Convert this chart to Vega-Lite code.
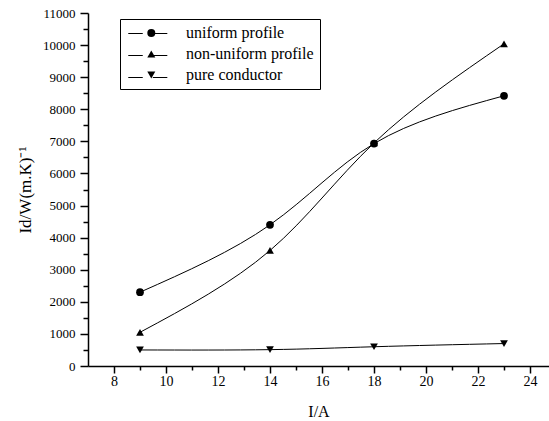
{
  "$schema": "https://vega.github.io/schema/vega-lite/v6.json",
  "autosize": "none",
  "width": 461,
  "height": 353,
  "padding": {"left": 88, "top": 13, "right": 0, "bottom": 55},
  "background": "white",
  "config": {
    "font": "Liberation Serif",
    "view": {"stroke": null},
    "axis": {
      "grid": false,
      "labelFont": "Liberation Serif",
      "labelFontSize": 13,
      "labelColor": "black",
      "titleFont": "Liberation Serif",
      "titleFontSize": 16,
      "titleFontWeight": "normal",
      "titleColor": "black",
      "domainColor": "black",
      "domainWidth": 1.5,
      "tickColor": "black",
      "tickWidth": 1.5
    },
    "legend": {
      "labelFont": "Liberation Serif",
      "labelFontSize": 16,
      "labelColor": "black"
    }
  },
  "data": {
    "values": [
      {"I": 9, "v": 2300, "series": "uniform profile", "code": "u"},
      {"I": 14, "v": 4400, "series": "uniform profile", "code": "u"},
      {"I": 18, "v": 6930, "series": "uniform profile", "code": "u"},
      {"I": 23, "v": 8420, "series": "uniform profile", "code": "u"},
      {"I": 9, "v": 1050, "series": "non-uniform profile", "code": "n"},
      {"I": 14, "v": 3600, "series": "non-uniform profile", "code": "n"},
      {"I": 18, "v": 6950, "series": "non-uniform profile", "code": "n"},
      {"I": 23, "v": 10040, "series": "non-uniform profile", "code": "n"},
      {"I": 9, "v": 500, "series": "pure conductor", "code": "p"},
      {"I": 14, "v": 510, "series": "pure conductor", "code": "p"},
      {"I": 18, "v": 600, "series": "pure conductor", "code": "p"},
      {"I": 23, "v": 700, "series": "pure conductor", "code": "p"}
    ]
  },
  "resolve": {"axis": {"x": "independent", "y": "independent"}},
  "layer": [
    {
      "mark": {"type": "line", "interpolate": "natural", "color": "black", "strokeWidth": 1},
      "encoding": {
        "x": {
          "field": "I", "type": "quantitative",
          "scale": {"domain": [7, 24.73], "nice": false, "zero": false},
          "axis": {"orient": "bottom", "title": "I/A", "values": [8, 10, 12, 14, 16, 18, 20, 22, 24], "format": "d", "tickSize": 7, "labelPadding": 1, "labelFontSize": 14, "titlePadding": 15, "labelFlush": false}
        },
        "y": {
          "field": "v", "type": "quantitative",
          "scale": {"domain": [0, 11000], "nice": false},
          "axis": {"orient": "left", "title": "Id/W(m.K)⁻¹", "titleFontSize": 17, "values": [0, 1000, 2000, 3000, 4000, 5000, 6000, 7000, 8000, 9000, 10000, 11000], "format": "d", "tickSize": 8, "labelPadding": 5, "titlePadding": 8, "labelFlush": false}
        },
        "detail": {"field": "series"}
      }
    },
    {
      "mark": {"type": "point", "filled": false, "color": "black", "opacity": 0, "size": 100},
      "encoding": {
        "x": {"field": "I", "type": "quantitative", "axis": null},
        "y": {"field": "v", "type": "quantitative", "axis": null},
        "color": {
          "field": "code", "type": "nominal",
          "scale": {"domain": ["u", "n", "p"], "range": ["black", "black", "black"]},
          "legend": {
            "title": null,
            "orient": "none",
            "legendX": 32,
            "legendY": 6,
            "padding": 6,
            "rowPadding": 5,
            "symbolType": "M-2.44,0H-0.63M0.63,0H2.44",
            "symbolSize": 256,
            "symbolOffset": 13.3,
            "labelOffset": 26,
            "labelExpr": "''",
            "symbolOpacity": 1,
            "symbolFillColor": "transparent",
            "symbolStrokeColor": "black",
            "symbolStrokeWidth": 1,
            "labelColor": "transparent"
          }
        }
      }
    },
    {
      "mark": {"type": "point", "filled": true, "color": "black", "opacity": 1, "size": 60},
      "encoding": {
        "x": {
          "field": "I", "type": "quantitative",
          "axis": {"orient": "bottom", "title": null, "labels": false, "domain": false, "values": [9, 11, 13, 15, 17, 19, 21, 23], "tickSize": 4}
        },
        "y": {
          "field": "v", "type": "quantitative",
          "axis": {"orient": "left", "title": null, "labels": false, "domain": false, "values": [500, 1500, 2500, 3500, 4500, 5500, 6500, 7500, 8500, 9500, 10500], "tickSize": 5}
        },
        "shape": {
          "field": "series", "type": "nominal",
          "scale": {"domain": ["uniform profile", "non-uniform profile", "pure conductor"], "range": ["circle", "triangle-up", "triangle-down"]},
          "legend": {
            "title": null,
            "orient": "none",
            "legendX": 32,
            "legendY": 6,
            "strokeColor": "black",
            "padding": 6,
            "rowPadding": 5,
            "symbolSize": 64,
            "symbolOffset": 17.3,
            "labelOffset": 26.7,
            "symbolOpacity": 1,
            "symbolFillColor": "black",
            "symbolStrokeColor": "black",
            "symbolStrokeWidth": 0
          }
        }
      }
    }
  ]
}
